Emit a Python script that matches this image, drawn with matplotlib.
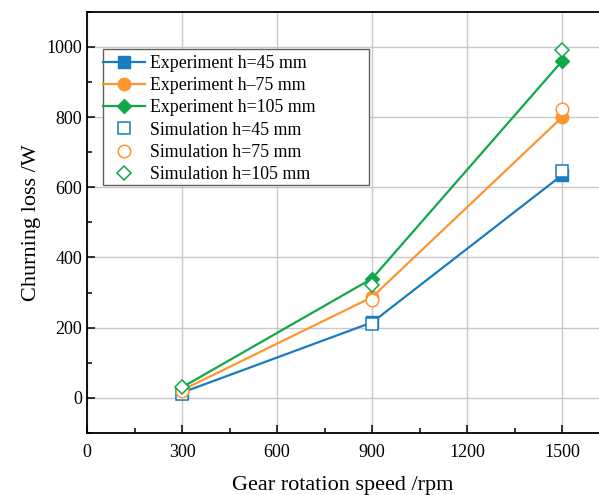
import matplotlib
matplotlib.use("Agg")
import matplotlib.pyplot as plt
from matplotlib.ticker import MultipleLocator
from matplotlib.patches import Rectangle

speed = [300, 900, 1500]
exp_45 = [15, 215, 635]
exp_75 = [22, 287, 800]
exp_105 = [30, 340, 960]
sim_45 = [12, 211, 645]
sim_75 = [20, 279, 822]
sim_105 = [30, 322, 990]

blue = '#1a7cc0'
orange = '#ff9530'
green = '#10a84a'

plt.rcParams['font.family'] = ['Liberation Serif', 'DejaVu Serif']

fig = plt.figure(figsize=(5.99, 4.95), dpi=100)
ax = fig.add_axes([0.1452, 0.1253, 0.8548, 0.851])

lw = 1.6
ms = 8
ax.plot(speed, exp_45, color=blue, lw=lw, marker='s', ms=ms, label='Experiment h=45 mm', zorder=3)
ax.plot(speed, exp_75, color=orange, lw=lw, marker='o', ms=ms + 1, label='Experiment h\u201375 mm', zorder=3)
ax.plot(speed, exp_105, color=green, lw=lw, marker='D', ms=ms - 0.5, label='Experiment h=105 mm', zorder=3)
ax.plot(speed, sim_45, ls='none', marker='s', ms=ms, mfc='white', mec=blue, mew=1.1, label='Simulation h=45 mm', zorder=4)
ax.plot(speed, sim_75, ls='none', marker='o', ms=ms + 1, mfc='white', mec=orange, mew=1.1, label='Simulation h=75 mm', zorder=4)
ax.plot(speed, sim_105, ls='none', marker='D', ms=ms - 0.5, mfc='white', mec=green, mew=1.1, label='Simulation h=105 mm', zorder=4)

ax.set_xlim(0, 1616)
ax.set_ylim(-100, 1100)
ax.xaxis.set_major_locator(MultipleLocator(300))
ax.xaxis.set_minor_locator(MultipleLocator(150))
ax.yaxis.set_major_locator(MultipleLocator(200))
ax.yaxis.set_minor_locator(MultipleLocator(100))
ax.grid(True, which='major', color='#c8c8c8', lw=1.0)
ax.set_axisbelow(True)

ax.tick_params(which='both', direction='in', labelsize=13, width=1.1)
ax.tick_params(which='major', length=6)
ax.tick_params(which='minor', length=3.5)
ax.tick_params(axis='x', pad=8)
for s in ['left', 'bottom', 'top']:
    ax.spines[s].set_linewidth(1.3)
ax.spines['right'].set_visible(False)

ax.set_xlabel('Gear rotation speed /rpm', fontsize=16, labelpad=11)
ax.set_ylabel('Churning loss /W', fontsize=16, labelpad=4)

leg = ax.legend(loc='upper left', bbox_to_anchor=(0.031, 0.897), fontsize=12.8,
                frameon=False, handlelength=2.35, borderpad=0, labelspacing=0.29,
                handletextpad=0.3, borderaxespad=0)
leg.set_zorder(6)

frame = Rectangle((0.031, 0.5887), 0.52, 0.3228, transform=ax.transAxes,
                  facecolor='white', edgecolor='#606060', lw=1.0, zorder=5)
ax.add_patch(frame)

fig.savefig('out.png', dpi=100)
